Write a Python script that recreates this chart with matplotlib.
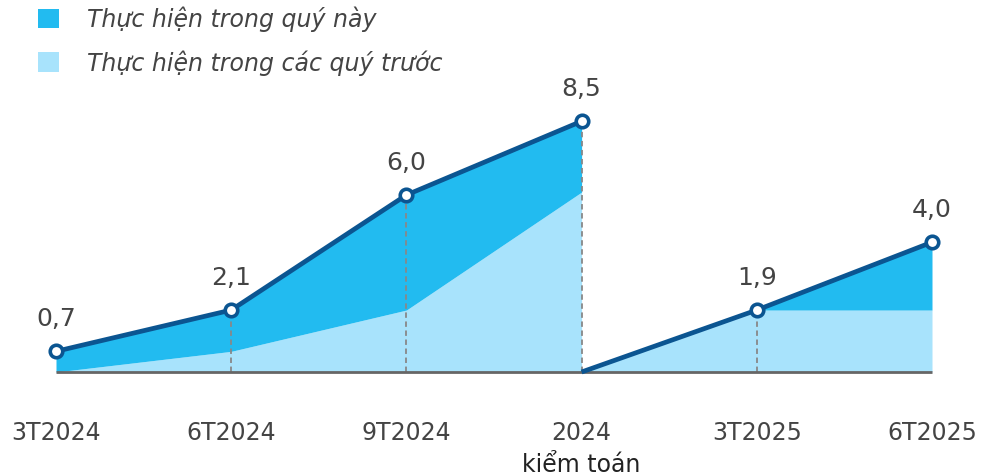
import matplotlib
matplotlib.use('Agg')
import matplotlib.pyplot as plt
from matplotlib.patches import Rectangle

plt.rcParams['font.family'] = ['DejaVu Sans']

# data
categories = ['3T2024', '6T2024', '9T2024', '2024', '3T2025', '6T2025']
sub_labels = ['', '', '', 'kiểm toán', '', '']
# 2024 period (cumulative)
x1 = [0, 1, 2, 3]
total1 = [0.7, 2.1, 6.0, 8.5]
prev1 = [0.0, 0.7, 2.1, 6.1]
# 2025 period (cumulative, restarts from zero)
x2 = [3, 4, 5]
total2 = [0.0, 2.1, 4.4]
prev2 = [0.0, 2.1, 2.1]
point_labels = ['0,7', '2,1', '6,0', '8,5', '1,9', '4,0']

dark_fill = '#22bbf0'
light_fill = '#a8e3fc'
line_col = '#0b5591'
text_col = '#444444'

fig = plt.figure(figsize=(9.82, 4.77), dpi=100)
ax = fig.add_axes([56 / 982, 104 / 477, 876 / 982, 295 / 477])
ax.set_xlim(0, 5)
ax.set_ylim(0, 10)
ax.axis('off')

# areas
ax.fill_between(x1, 0, prev1, color=light_fill, lw=0)
ax.fill_between(x1, prev1, total1, color=dark_fill, lw=0)
ax.fill_between(x2, 0, prev2, color=light_fill, lw=0)
ax.fill_between(x2, prev2, total2, color=dark_fill, lw=0)

# dashed guides
guide_x = [1, 2, 3, 4]
guide_y = [total1[1], total1[2], total1[3], total2[1]]
ax.vlines(guide_x, 0, guide_y, colors='#888888', linestyles=(0, (3, 2)), lw=1.3, zorder=3)

# baseline
ax.hlines(0, 0, 5, colors='#666666', lw=2, zorder=4, clip_on=False)

# lines
ax.plot(x1, total1, color=line_col, lw=3.4, zorder=5, solid_capstyle='butt', clip_on=False)
ax.plot(x2, total2, color=line_col, lw=3.4, zorder=5, solid_capstyle='butt', clip_on=False)
mx = x1 + x2[1:]
my = total1 + total2[1:]
ax.plot(mx, my, ls='none', marker='o', ms=9, mfc='white', mec=line_col, mew=2.6,
        zorder=6, clip_on=False)

for xi, yi, lab in zip(mx, my, point_labels):
    ax.annotate(lab, (xi, yi), xytext=(0, 24), textcoords='offset points',
                ha='center', va='center', fontsize=18, color=text_col)

# category labels
for i, (c, s) in enumerate(zip(categories, sub_labels)):
    ax.annotate(c, (i, 0), xytext=(0, -43), textcoords='offset points',
                ha='center', va='center', fontsize=17, color=text_col, annotation_clip=False)
    if s:
        ax.annotate(s, (i, 0), xytext=(0, -66), textcoords='offset points',
                    ha='center', va='center', fontsize=17, color='#222222',
                    annotation_clip=False)

# legend
legend_items = [('Thực hiện trong quý này', dark_fill), ('Thực hiện trong các quý trước', light_fill)]
for k, (lab, col) in enumerate(legend_items):
    yc = 1 - (19 + 44 * k) / 477
    fig.patches.append(Rectangle((38 / 982, yc - 9.5 / 477), 21 / 982, 19 / 477,
                                 transform=fig.transFigure, color=col, lw=0))
    fig.text(87 / 982, yc, lab, ha='left', va='center', fontsize=17,
             style='italic', color=text_col)

fig.savefig('out.png', dpi=100)
